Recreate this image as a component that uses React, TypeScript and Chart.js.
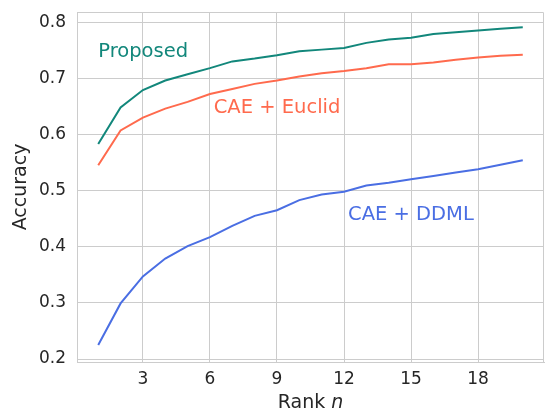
import React, { useEffect, useRef } from 'react';
import { Chart, registerables } from 'chart.js';

Chart.register(...registerables);

const ranks = [1, 2, 3, 4, 5, 6, 7, 8, 9, 10, 11, 12, 13, 14, 15, 16, 17, 18, 19, 20];
const proposed = [0.583, 0.648, 0.679, 0.696, 0.707, 0.718, 0.73, 0.735, 0.741, 0.748, 0.751, 0.754, 0.763, 0.769, 0.772, 0.779, 0.782, 0.785, 0.788, 0.791];
const caeEuclid = [0.545, 0.607, 0.63, 0.646, 0.658, 0.672, 0.681, 0.69, 0.696, 0.703, 0.709, 0.713, 0.718, 0.725, 0.725, 0.728, 0.733, 0.737, 0.74, 0.742];
const caeDdml = [0.225, 0.299, 0.347, 0.379, 0.401, 0.417, 0.437, 0.455, 0.465, 0.483, 0.493, 0.498, 0.509, 0.514, 0.52, 0.526, 0.532, 0.538, 0.546, 0.554];
const yTickValues = [0.2, 0.3, 0.4, 0.5, 0.6, 0.7, 0.8];
const xTickValues = [3, 6, 9, 12, 15, 18];

const seriesNames = ['Proposed', 'CAE + Euclid', 'CAE + DDML'];
const seriesColors = ['#12877b', '#ff6a4d', '#4a6ee3'];
const labelX = [1.0, 6.17, 12.18];
const labelY = [0.738, 0.639, 0.448];

const FONT = "'DejaVu Sans', sans-serif";
const TEXT = '#262626';
const GRID = '#cccccc';

const overlay = {
  id: 'overlay',
  afterDraw(chart: any) {
    const { ctx, chartArea, scales } = chart;
    ctx.save();
    ctx.strokeStyle = GRID;
    ctx.lineWidth = 1;
    ctx.beginPath();
    ctx.moveTo(chartArea.left, chartArea.top + 0.5);
    ctx.lineTo(chartArea.right - 0.5, chartArea.top + 0.5);
    ctx.lineTo(chartArea.right - 0.5, chartArea.bottom);
    ctx.stroke();
    ctx.font = `19.5px ${FONT}`;
    ctx.textAlign = 'left';
    ctx.textBaseline = 'alphabetic';
    seriesNames.forEach((name, i) => {
      ctx.fillStyle = seriesColors[i];
      ctx.fillText(name, scales.x.getPixelForValue(labelX[i]), scales.y.getPixelForValue(labelY[i]));
    });
    const a = 'Rank ';
    const b = 'n';
    ctx.fillStyle = TEXT;
    ctx.font = `19px ${FONT}`;
    const wa = ctx.measureText(a).width;
    ctx.font = `italic 19px ${FONT}`;
    const wb = ctx.measureText(b).width;
    const cx = (chartArea.left + chartArea.right) / 2;
    const x0 = cx - (wa + wb) / 2;
    const y = 408;
    ctx.font = `19px ${FONT}`;
    ctx.fillText(a, x0, y);
    ctx.font = `italic 19px ${FONT}`;
    ctx.fillText(b, x0 + wa, y);
    ctx.restore();
  },
};

export default function App() {
  const ref = useRef<HTMLCanvasElement>(null);
  useEffect(() => {
    if (!ref.current) return;
    const chart = new Chart(ref.current, {
      type: 'line',
      data: {
        labels: ranks,
        datasets: [proposed, caeEuclid, caeDdml].map((d, i) => ({
          label: seriesNames[i],
          data: d.map((v, j) => ({ x: ranks[j], y: v })),
          borderColor: seriesColors[i],
          backgroundColor: seriesColors[i],
          borderWidth: 2,
          pointRadius: 0,
          tension: 0,
          fill: false,
        })),
      },
      options: {
        animation: false,
        responsive: false,
        devicePixelRatio: 1,
        layout: { padding: { left: 0, top: 12, right: 1, bottom: 0 } },
        plugins: { legend: { display: false }, tooltip: { enabled: false } },
        scales: {
          x: {
            type: 'linear',
            min: 0.05,
            max: 20.95,
            afterBuildTicks: (s: any) => { s.ticks = xTickValues.map((v) => ({ value: v })); },
            afterFit: (s: any) => { s.height = 48; s.paddingLeft = 0; s.paddingRight = 0; },
            grid: { color: GRID, lineWidth: 1, drawTicks: false },
            border: { display: true, color: GRID, width: 1 },
            ticks: { color: TEXT, font: { family: FONT, size: 17 }, padding: 7, maxRotation: 0, autoSkip: false },
            title: { display: false },
          },
          y: {
            type: 'linear',
            min: 0.1947,
            max: 0.818,
            afterBuildTicks: (s: any) => { s.ticks = yTickValues.map((v) => ({ value: v })); },
            afterFit: (s: any) => { s.width = 77; s.paddingTop = 0; s.paddingBottom = 0; },
            grid: { color: GRID, lineWidth: 1, drawTicks: false },
            border: { display: true, color: GRID, width: 1 },
            ticks: { color: TEXT, font: { family: FONT, size: 17 }, padding: 11, callback: (v: any) => Number(v).toFixed(1) },
            title: { display: true, text: 'Accuracy', color: TEXT, font: { family: FONT, size: 19 }, padding: { top: 10, bottom: 0 } },
          },
        },
      },
      plugins: [overlay],
    });
    return () => chart.destroy();
  }, []);
  return (
    <div style={{ position: 'absolute', left: 0, top: 0, width: 545, height: 410, background: '#fff' }}>
      <canvas ref={ref} width={545} height={410} style={{ display: 'block' }} />
    </div>
  );
}
